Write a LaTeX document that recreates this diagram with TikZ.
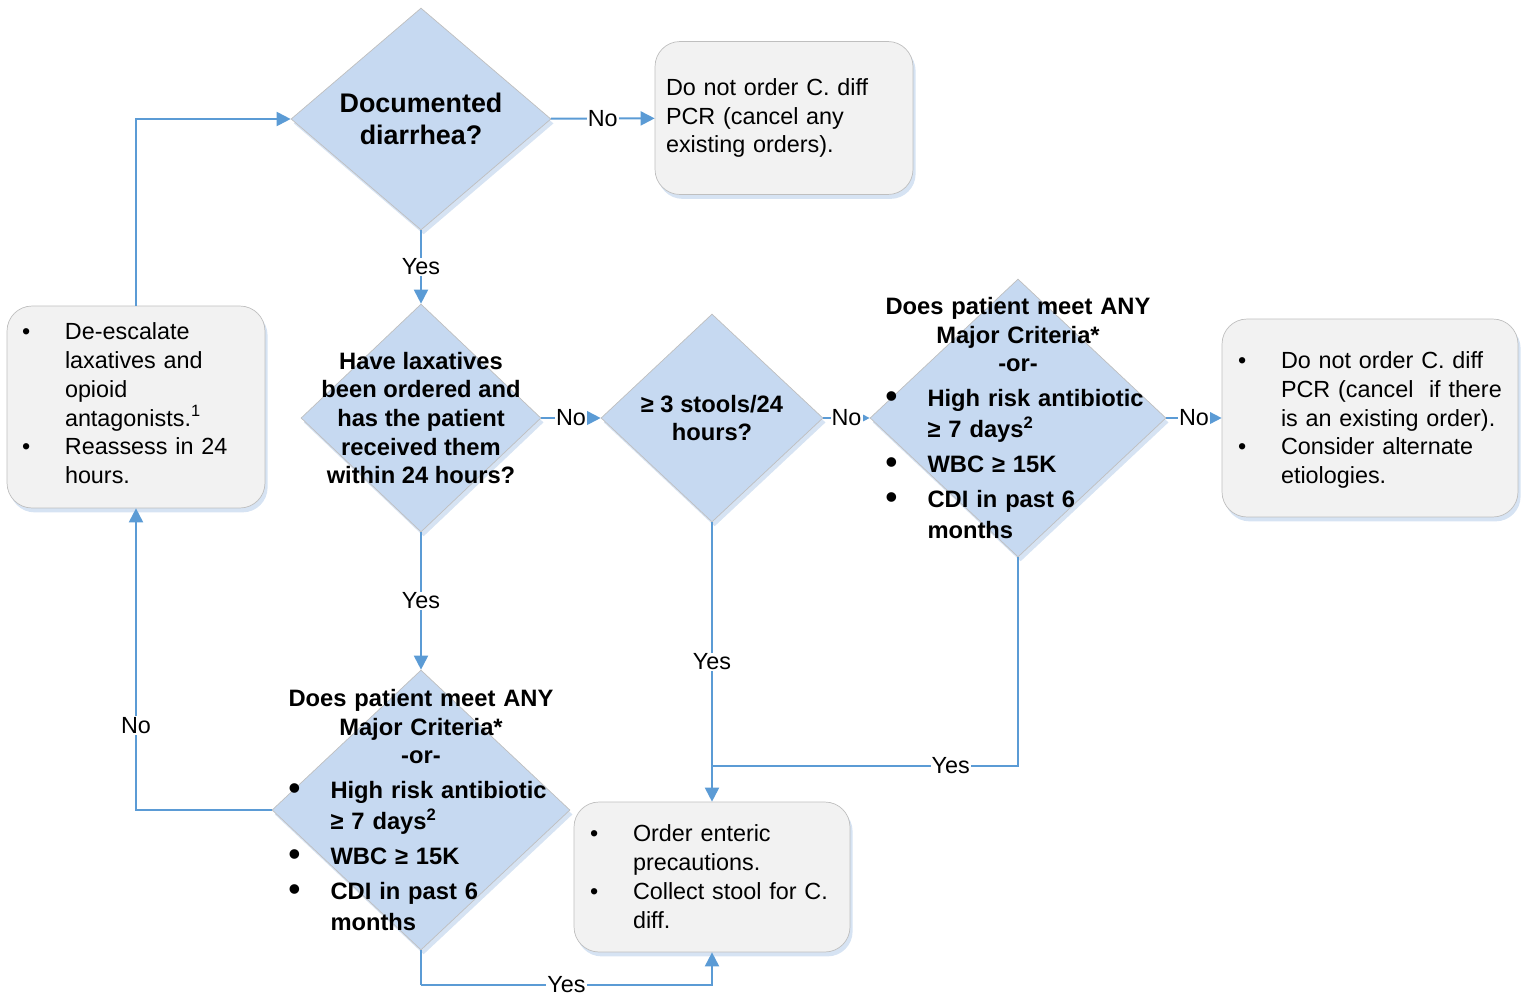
\documentclass[tikz,border=0pt]{standalone}
\usepackage{fontspec}
\setmainfont{Liberation Sans}
\usetikzlibrary{shapes.geometric,arrows.meta,shadows}
\definecolor{linkblue}{RGB}{91, 155, 213}
\definecolor{askblue}{RGB}{198, 217, 241}
\definecolor{shadeblue}{RGB}{214, 227, 243}
\definecolor{boxgray}{RGB}{242, 242, 242}
\definecolor{rimgray}{RGB}{191, 191, 191}
\newcommand{\boxfont}{\fontsize{13.3}{16.4}\selectfont}
\newcommand{\askfont}{\fontsize{13.5}{16.3}\selectfont\bfseries}
\newcommand{\brk}{\hfil\break}
\newcommand{\bitem}[1]{\par\hangindent=0.86cm\hangafter=1\noindent\makebox[0.86cm][l]{\textbullet}#1\par}
\newcommand{\critem}[1]{\par\vspace{2.5pt}\baselineskip=17.5pt\hangindent=0.84cm\hangafter=1\noindent
  \makebox[0.84cm][l]{\raisebox{-0.2pt}{\fontsize{19}{16}\selectfont\textbullet}}#1\par}
\newcommand{\askline}[1]{\noindent\makebox[\linewidth][c]{#1}\par}
\tikzset{
  decision/.style={diamond, draw=rimgray, fill=askblue, inner sep=0pt,
                   general shadow={fill=shadeblue, shadow xshift=1.5pt, shadow yshift=-2.5pt}},
  action/.style={rectangle, rounded corners=0.5cm, draw=rimgray, fill=boxgray, inner sep=0pt,
                 font=\boxfont, align=left,
                 general shadow={fill=shadeblue, shadow xshift=1.5pt, shadow yshift=-2.5pt}},
  link/.style={draw=linkblue, line width=1.1pt, -{Triangle[length=8pt,width=8pt]}},
  joint/.style={draw=linkblue, line width=1.1pt},
  answer/.style={fill=white, inner sep=0.6pt, font=\boxfont}
}
\begin{document}
\begin{tikzpicture}[x=0.02cm, y=-0.02cm]
  \useasboundingbox (0,0) rectangle (1525,995);
  \node[decision, minimum width=5.20cm, minimum height=4.44cm] (d1) at ( 421, 119) {};
  \node[decision, minimum width=4.80cm, minimum height=4.56cm] (d2) at ( 421, 418) {};
  \node[decision, minimum width=4.44cm, minimum height=4.16cm] (d3) at ( 712, 418) {};
  \node[decision, minimum width=5.92cm, minimum height=5.56cm] (d4) at (1018, 418) {};
  \node[decision, minimum width=5.96cm, minimum height=5.60cm] (d5) at ( 421, 810) {};

  \node[font=\fontsize{15.3}{18}\selectfont\bfseries, align=center] (d1txt) at (d1) {Documented\\diarrhea?};
  \node[font=\askfont, align=center] (d2txt) at (d2) {Have laxatives\\been ordered and\\has the patient\\received them\\within 24 hours?};
  \node[font=\askfont, align=center] (d3txt) at (d3) {≥ 3 stools/24\\hours?};
  \node[font=\askfont, text width=5.3cm, inner sep=0pt] (d4txt) at (d4) {\setlength{\parskip}{0pt}%
    \askline{Does patient meet ANY}\askline{Major Criteria*}\askline{-or-}%
    \critem{High risk antibiotic\brk ≥ 7 days\textsuperscript{2}}\critem{WBC ≥ 15K}\critem{CDI in past 6\brk months}};
  \node[font=\askfont, text width=5.3cm, inner sep=0pt] (d5txt) at (d5) {\setlength{\parskip}{0pt}%
    \askline{Does patient meet ANY}\askline{Major Criteria*}\askline{-or-}%
    \critem{High risk antibiotic\brk ≥ 7 days\textsuperscript{2}}\critem{WBC ≥ 15K}\critem{CDI in past 6\brk months}};

  \node[action, minimum width=5.16cm, minimum height=3.06cm, text width=4.72cm] (acta) at ( 784, 118)
       {Do not order C. diff\\PCR (cancel any\\existing orders).};
  \node[action, minimum width=5.16cm, minimum height=4.04cm, text width=4.56cm] (actb) at ( 136, 407)
       {\bitem{De-escalate\brk laxatives and\brk opioid\brk antagonists.\textsuperscript{1}}\bitem{Reassess in 24\brk hours.}\kern11pt};
  \node[action, minimum width=5.92cm, minimum height=3.96cm, text width=5.28cm] (actc) at (1370, 418)
       {\bitem{Do not order C. diff\brk PCR (cancel\ \ if there\brk is an existing order).}\bitem{Consider alternate\brk etiologies.}\kern4.5pt};
  \node[action, minimum width=5.52cm, minimum height=3.00cm, text width=4.88cm] (actd) at ( 712, 877)
       {\bitem{Order enteric\brk precautions.}\bitem{Collect stool for C.\brk diff.}\kern7pt};

  \coordinate (merge) at ( 712, 766);
  \coordinate (low)   at ( 421, 985);

  \draw[link]  (d1) -- node[answer] (no1)  {No}  (acta);
  \draw[link]  (d1) -- node[answer] (yes1) {Yes} (d2);
  \draw[link]  (d2) -- node[answer] (no2)  {No}  (d3);
  \draw[link]  (d3) -- node[answer] (no3)  {No}  (d4);
  \draw[link]  (d4) -- node[answer] (no4)  {No}  (actc);
  \draw[link]  (d2) -- node[answer] (yes2) {Yes} (d5);
  \draw[link]  (d3) -- node[answer] (yes3) {Yes} (actd);
  \draw[joint] (d4.south) |- node[answer, pos=0.61] (yes4) {Yes} (merge);
  \draw[link]  (d5.west) -| node[answer, pos=0.64] (no5) {No} (actb.south);
  \draw[joint] (d5.south) -- (low);
  \draw[link]  (low) -| node[answer, pos=0.25] (yes5) {Yes} (actd.south);
  \draw[link]  (actb.north) |- (d1.west);
\end{tikzpicture}
\end{document}
